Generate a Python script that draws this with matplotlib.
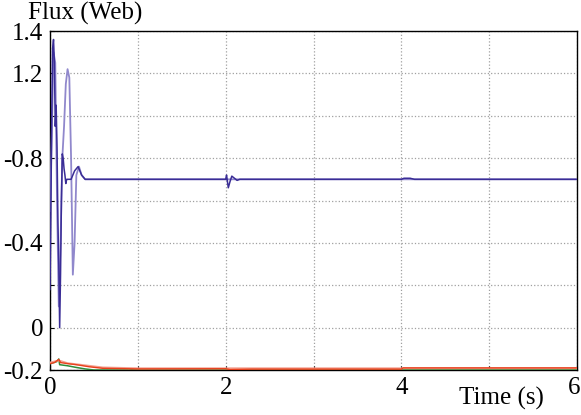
import matplotlib
matplotlib.use("Agg")
import matplotlib.pyplot as plt
import matplotlib.transforms as mtransforms
import numpy as np

# y ticks and odd labels as shown in reference
y_ticks = [-0.2, 0.0, 0.2, 0.4, 0.6, 0.8, 1.0, 1.2, 1.4]
y_labels = ["-0.2", "0", "", "-0.4", "", "-0.8", "", "1.2", "1.4"]
x_ticks = [0, 1, 2, 3, 4, 5, 6]
x_labels = ["0", "", "2", "", "4", "", "6"]

# dark blue flux trace
t_dark = [0.00, 0.01, 0.02, 0.03, 0.04, 0.05, 0.06, 0.07, 0.08, 0.09, 0.10, 0.11,
          0.12, 0.13, 0.14, 0.15, 0.16, 0.17, 0.18, 0.19, 0.20, 0.24, 0.28, 0.32,
          0.36, 0.40, 2.00, 2.01, 2.03, 2.05, 2.07, 2.10, 2.13, 2.16, 2.20,
          4.00, 4.03, 4.10, 4.15, 6.00]
v_dark = [0.18, 0.55, 1.00, 1.32, 1.36, 1.25, 0.95, 1.05, 0.85, 0.50, 0.30, 0.00,
          0.25, 0.60, 0.82, 0.80, 0.75, 0.72, 0.68, 0.70, 0.70, 0.70, 0.74, 0.76,
          0.72, 0.70, 0.70, 0.72, 0.66, 0.69, 0.715, 0.705, 0.695, 0.70, 0.70,
          0.70, 0.705, 0.705, 0.70, 0.70]

# light purple flux trace
t_light = [0.00, 0.02, 0.04, 0.06, 0.08, 0.10, 0.12, 0.14, 0.16, 0.18, 0.20,
           0.22, 0.24, 0.26, 0.28, 0.30, 0.33, 0.36, 0.40, 6.00]
v_light = [0.55, 0.90, 1.30, 1.25, 0.60, 0.10, 0.40, 0.80, 0.95, 1.15, 1.22,
           1.18, 0.80, 0.25, 0.40, 0.72, 0.76, 0.72, 0.70, 0.70]

# red trace
t_red = [0.00, 0.05, 0.10, 0.12, 0.20, 0.30, 0.45, 0.60, 1.00, 2.00, 2.05, 2.30, 4.00, 4.02, 6.00]
v_red = [-0.170, -0.165, -0.150, -0.165, -0.170, -0.175, -0.185, -0.192, -0.195,
         -0.194, -0.198, -0.196, -0.196, -0.190, -0.190]

# pink trace
t_pink = [0.00, 0.10, 0.20, 0.40, 0.60, 1.00, 6.00]
v_pink = [-0.165, -0.155, -0.168, -0.178, -0.188, -0.192, -0.192]

# green trace
t_green = [0.00, 0.08, 0.10, 0.11, 0.20, 0.30, 0.40, 0.50, 0.90, 1.00, 2.00, 2.05, 2.20, 2.25, 6.00]
v_green = [-0.170, -0.160, -0.148, -0.175, -0.180, -0.188, -0.195, -0.200, -0.200,
           -0.196, -0.196, -0.200, -0.200, -0.197, -0.197]

plt.rcParams['font.family'] = ['Liberation Serif', 'DejaVu Serif']

fig = plt.figure(figsize=(5.81, 4.15), dpi=100)
ax = fig.add_axes([50/581, 1 - 370/415, 527/581, 339/415])

ax.plot(t_light, v_light, color='#9088cc', lw=1.3, zorder=3)
ax.plot(t_dark, v_dark, color='#3a2d96', lw=1.1, zorder=4)
ax.plot(t_green, v_green, color='#2e8b3a', lw=1.1, zorder=3)
ax.plot(t_pink, v_pink, color='#f4a090', lw=1.4, zorder=3)
ax.plot(t_red, v_red, color='#e8401c', lw=1.0, zorder=4)

ax.set_xlim(0, 6)
ax.set_ylim(-0.2, 1.4)
ax.set_xticks(x_ticks)
ax.set_xticklabels(x_labels)
ax.set_yticks(y_ticks)
ax.set_yticklabels(y_labels)
ax.tick_params(direction='in', length=3, labelsize=18, pad=5, colors='black')
ax.grid(True, color='#a0a0a0', linestyle=':', linewidth=0.9)
for s in ax.spines.values():
    s.set_color('black')
    s.set_linewidth(1.0)

# nudge the last x label slightly left so it stays inside the figure
last = ax.get_xticklabels()[-1]
last.set_transform(last.get_transform() +
                   mtransforms.ScaledTranslation(-2.5/100, 0, fig.dpi_scale_trans))

fig.text(28/581, 1 - 13/415, "Flux (Web)", fontsize=18, ha='left', va='center')
fig.text(501/581, 1 - 398/415, "Time (s)", fontsize=18, ha='center', va='center')

fig.savefig("out.png", dpi=100)
